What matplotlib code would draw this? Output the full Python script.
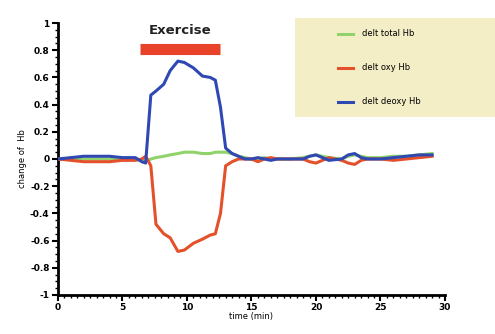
import matplotlib.pyplot as plt
from matplotlib.patches import Rectangle
from matplotlib.ticker import MultipleLocator

# time (min)
time = [0, 1, 2, 3, 4, 5, 6, 6.5, 6.8, 7.2, 7.6, 8.2, 8.7, 9.3, 9.8, 10.5,
        11.2, 11.8, 12.2, 12.6, 13.0, 13.5, 14, 14.5, 15, 15.5, 16, 16.5, 17,
        18, 19, 19.5, 20, 20.5, 21, 22, 22.5, 23, 23.5, 24, 25, 26, 27, 28, 29]

total_hb = [0.0, 0.0, 0.0, 0.0, 0.0, 0.0, 0.0, -0.01, -0.02, 0.0, 0.01, 0.02, 0.03,
            0.04, 0.05, 0.05, 0.04, 0.04, 0.05, 0.05, 0.05, 0.04, 0.02, 0.01, 0.0,
            0.0, 0.01, 0.0, 0.0, 0.0, 0.01, 0.02, 0.03, 0.02, 0.01, 0.0, 0.02, 0.03,
            0.02, 0.01, 0.01, 0.02, 0.02, 0.03, 0.04]

oxy_hb = [0.0, -0.01, -0.02, -0.02, -0.02, -0.01, -0.01, 0.0, 0.02, -0.05, -0.48,
          -0.55, -0.58, -0.68, -0.67, -0.62, -0.59, -0.56, -0.55, -0.40, -0.05, -0.02,
          0.0, 0.0, 0.0, -0.02, 0.0, 0.01, 0.0, 0.0, 0.0, -0.02, -0.03, -0.01, 0.01,
          -0.01, -0.03, -0.04, -0.01, 0.0, 0.0, -0.01, 0.0, 0.01, 0.02]

deoxy_hb = [0.0, 0.01, 0.02, 0.02, 0.02, 0.01, 0.01, -0.02, -0.03, 0.47, 0.50,
            0.55, 0.65, 0.72, 0.71, 0.67, 0.61, 0.60, 0.58, 0.38, 0.08, 0.04, 0.02,
            0.0, 0.0, 0.01, 0.0, -0.01, 0.0, 0.0, 0.0, 0.02, 0.03, 0.01, -0.01, 0.0,
            0.03, 0.04, 0.01, 0.0, 0.0, 0.01, 0.02, 0.03, 0.03]

exercise = (6.4, 12.6)

fig = plt.figure(figsize=(4.95, 3.34), dpi=100)
ax = fig.add_axes([0.117, 0.117, 0.782, 0.814])

green = '#8fd36a'
red = '#e4502a'
blue = '#2f48b3'

ax.plot(time, total_hb, color=green, lw=2.2, label='delt total Hb', zorder=3)
ax.plot(time, oxy_hb, color=red, lw=2.2, label='delt oxy Hb', zorder=4)
ax.plot(time, deoxy_hb, color=blue, lw=2.2, label='delt deoxy Hb', zorder=5)

# exercise bar
ax.plot(exercise, [0.81, 0.81], color='#e8432a', lw=8, solid_capstyle='butt')
ax.text(sum(exercise) / 2, 0.9, 'Exercise', ha='center', va='bottom',
        fontsize=9.5, fontweight='semibold', color='#222222')

ax.set_xlim(0, 30)
ax.set_ylim(-1, 1)
ax.xaxis.set_major_locator(MultipleLocator(5))
ax.xaxis.set_minor_locator(MultipleLocator(0.5))
ax.yaxis.set_major_locator(MultipleLocator(0.2))
ax.yaxis.set_minor_locator(MultipleLocator(0.05))
ax.yaxis.set_major_formatter(plt.FuncFormatter(lambda v, p: f'{round(v, 2):g}'))

for s in ['top', 'right']:
    ax.spines[s].set_visible(False)
for s in ['left', 'bottom']:
    ax.spines[s].set_linewidth(2)
ax.tick_params(which='major', length=4, width=1.5, labelsize=6.5, pad=2)
ax.tick_params(which='minor', length=2.5, width=1)
for lab in ax.get_xticklabels() + ax.get_yticklabels():
    lab.set_fontweight('bold')

ax.set_xlabel('time (min)', fontsize=6, labelpad=0)
ax.set_ylabel('change of  Hb', fontsize=6, labelpad=2)

# legend background box
fig.patches.append(Rectangle((295 / 495, 1 - 117 / 334), 200 / 495, 99 / 334,
                             transform=fig.transFigure, facecolor='#f4eec7',
                             edgecolor='none', zorder=0))
fig.legend(loc='upper left', bbox_to_anchor=(330 / 495, 1 - 22 / 334),
           frameon=False, fontsize=6, labelspacing=3.0, handlelength=1.8,
           handletextpad=1.2)

fig.savefig('out.png', dpi=100)
